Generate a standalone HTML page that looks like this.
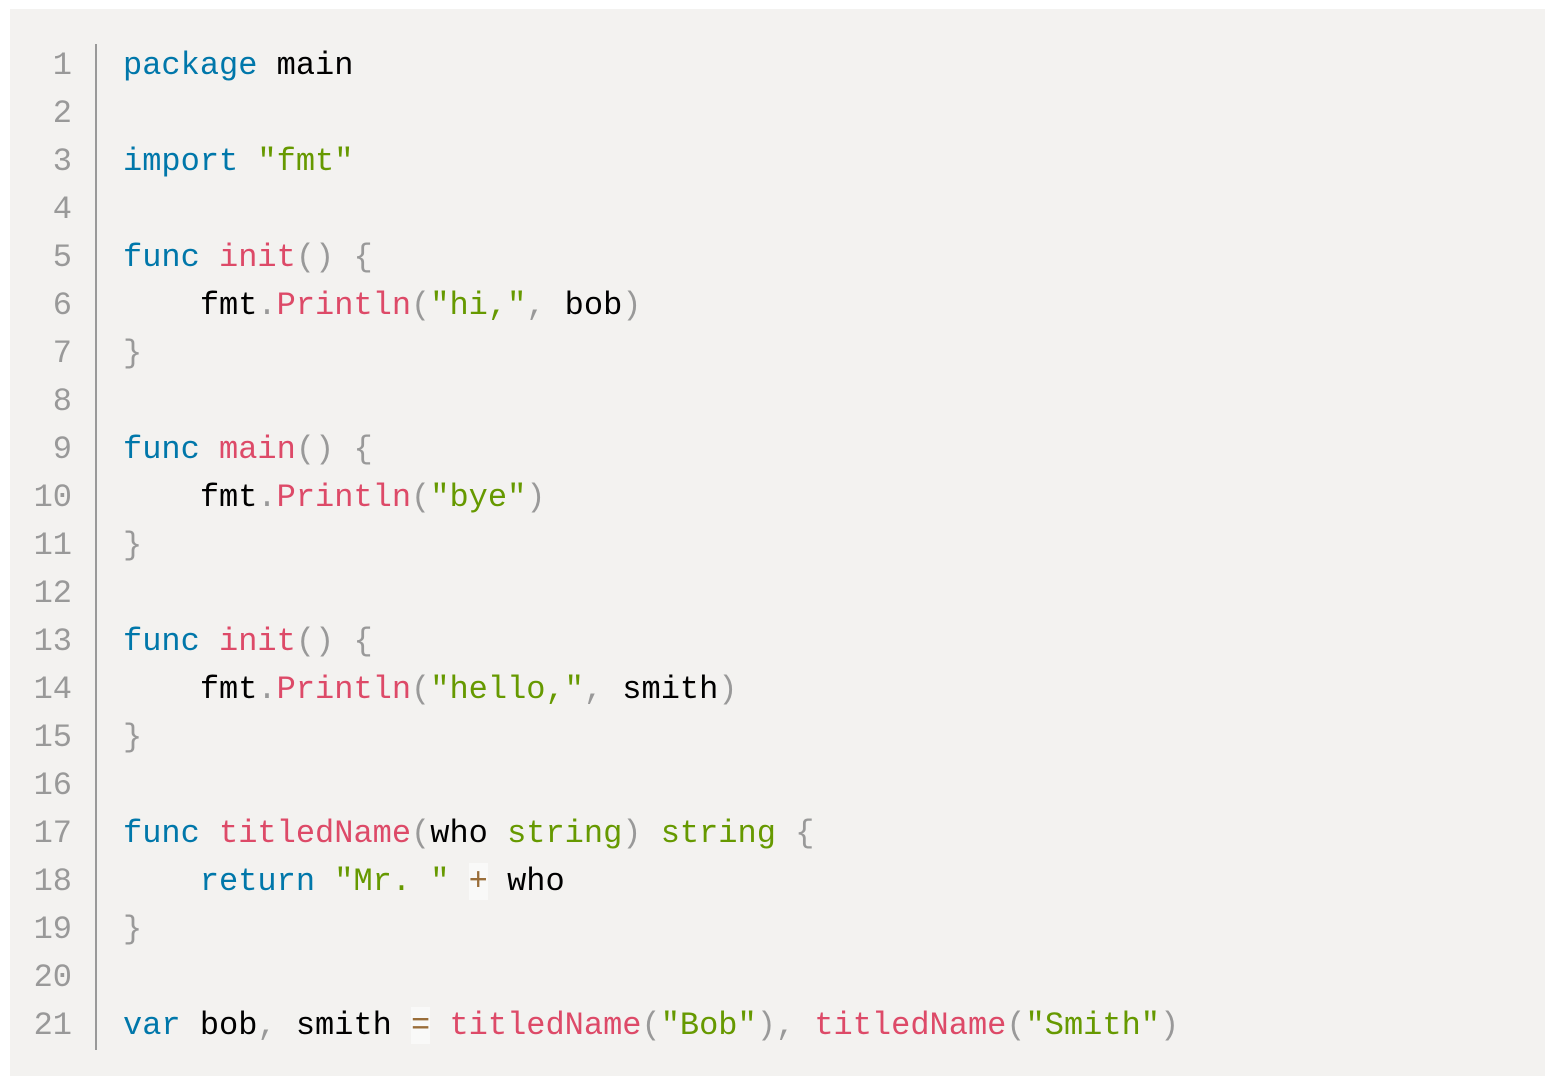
<!DOCTYPE html>
<html><head><meta charset="utf-8"><style>
html,body{margin:0;padding:0;background:#fff;width:1554px;height:1084px;overflow:hidden}
.panel{position:absolute;left:10px;top:9px;width:1535px;height:1067px;background:#f3f2f0}
.nums{position:absolute;left:0;top:42px;width:72px;text-align:right;color:#999;font:32px/48px "Liberation Mono",monospace;white-space:pre}
.bar{position:absolute;left:95px;top:44px;width:2px;height:1006px;background:#999}
pre{position:absolute;left:123px;top:42px;margin:0;font:32px/48px "Liberation Mono",monospace;color:#000}
.k{color:#0077aa}.f{color:#dd4a68}.s{color:#669900}.p{color:#999}.o{color:#9a6e3a;background:rgba(255,255,255,.5)}
</style></head><body>
<div class="panel"></div>
<div class="nums">1
2
3
4
5
6
7
8
9
10
11
12
13
14
15
16
17
18
19
20
21</div>
<div class="bar"></div>
<pre><span class="k">package</span> main

<span class="k">import</span> <span class="s">"fmt"</span>

<span class="k">func</span> <span class="f">init</span><span class="p">()</span> <span class="p">{</span>
    fmt<span class="p">.</span><span class="f">Println</span><span class="p">(</span><span class="s">"hi,"</span><span class="p">,</span> bob<span class="p">)</span>
<span class="p">}</span>

<span class="k">func</span> <span class="f">main</span><span class="p">()</span> <span class="p">{</span>
    fmt<span class="p">.</span><span class="f">Println</span><span class="p">(</span><span class="s">"bye"</span><span class="p">)</span>
<span class="p">}</span>

<span class="k">func</span> <span class="f">init</span><span class="p">()</span> <span class="p">{</span>
    fmt<span class="p">.</span><span class="f">Println</span><span class="p">(</span><span class="s">"hello,"</span><span class="p">,</span> smith<span class="p">)</span>
<span class="p">}</span>

<span class="k">func</span> <span class="f">titledName</span><span class="p">(</span>who <span class="s">string</span><span class="p">)</span> <span class="s">string</span> <span class="p">{</span>
    <span class="k">return</span> <span class="s">"Mr. "</span> <span class="o">+</span> who
<span class="p">}</span>

<span class="k">var</span> bob<span class="p">,</span> smith <span class="o">=</span> <span class="f">titledName</span><span class="p">(</span><span class="s">"Bob"</span><span class="p">),</span> <span class="f">titledName</span><span class="p">(</span><span class="s">"Smith"</span><span class="p">)</span></pre>
</body></html>
